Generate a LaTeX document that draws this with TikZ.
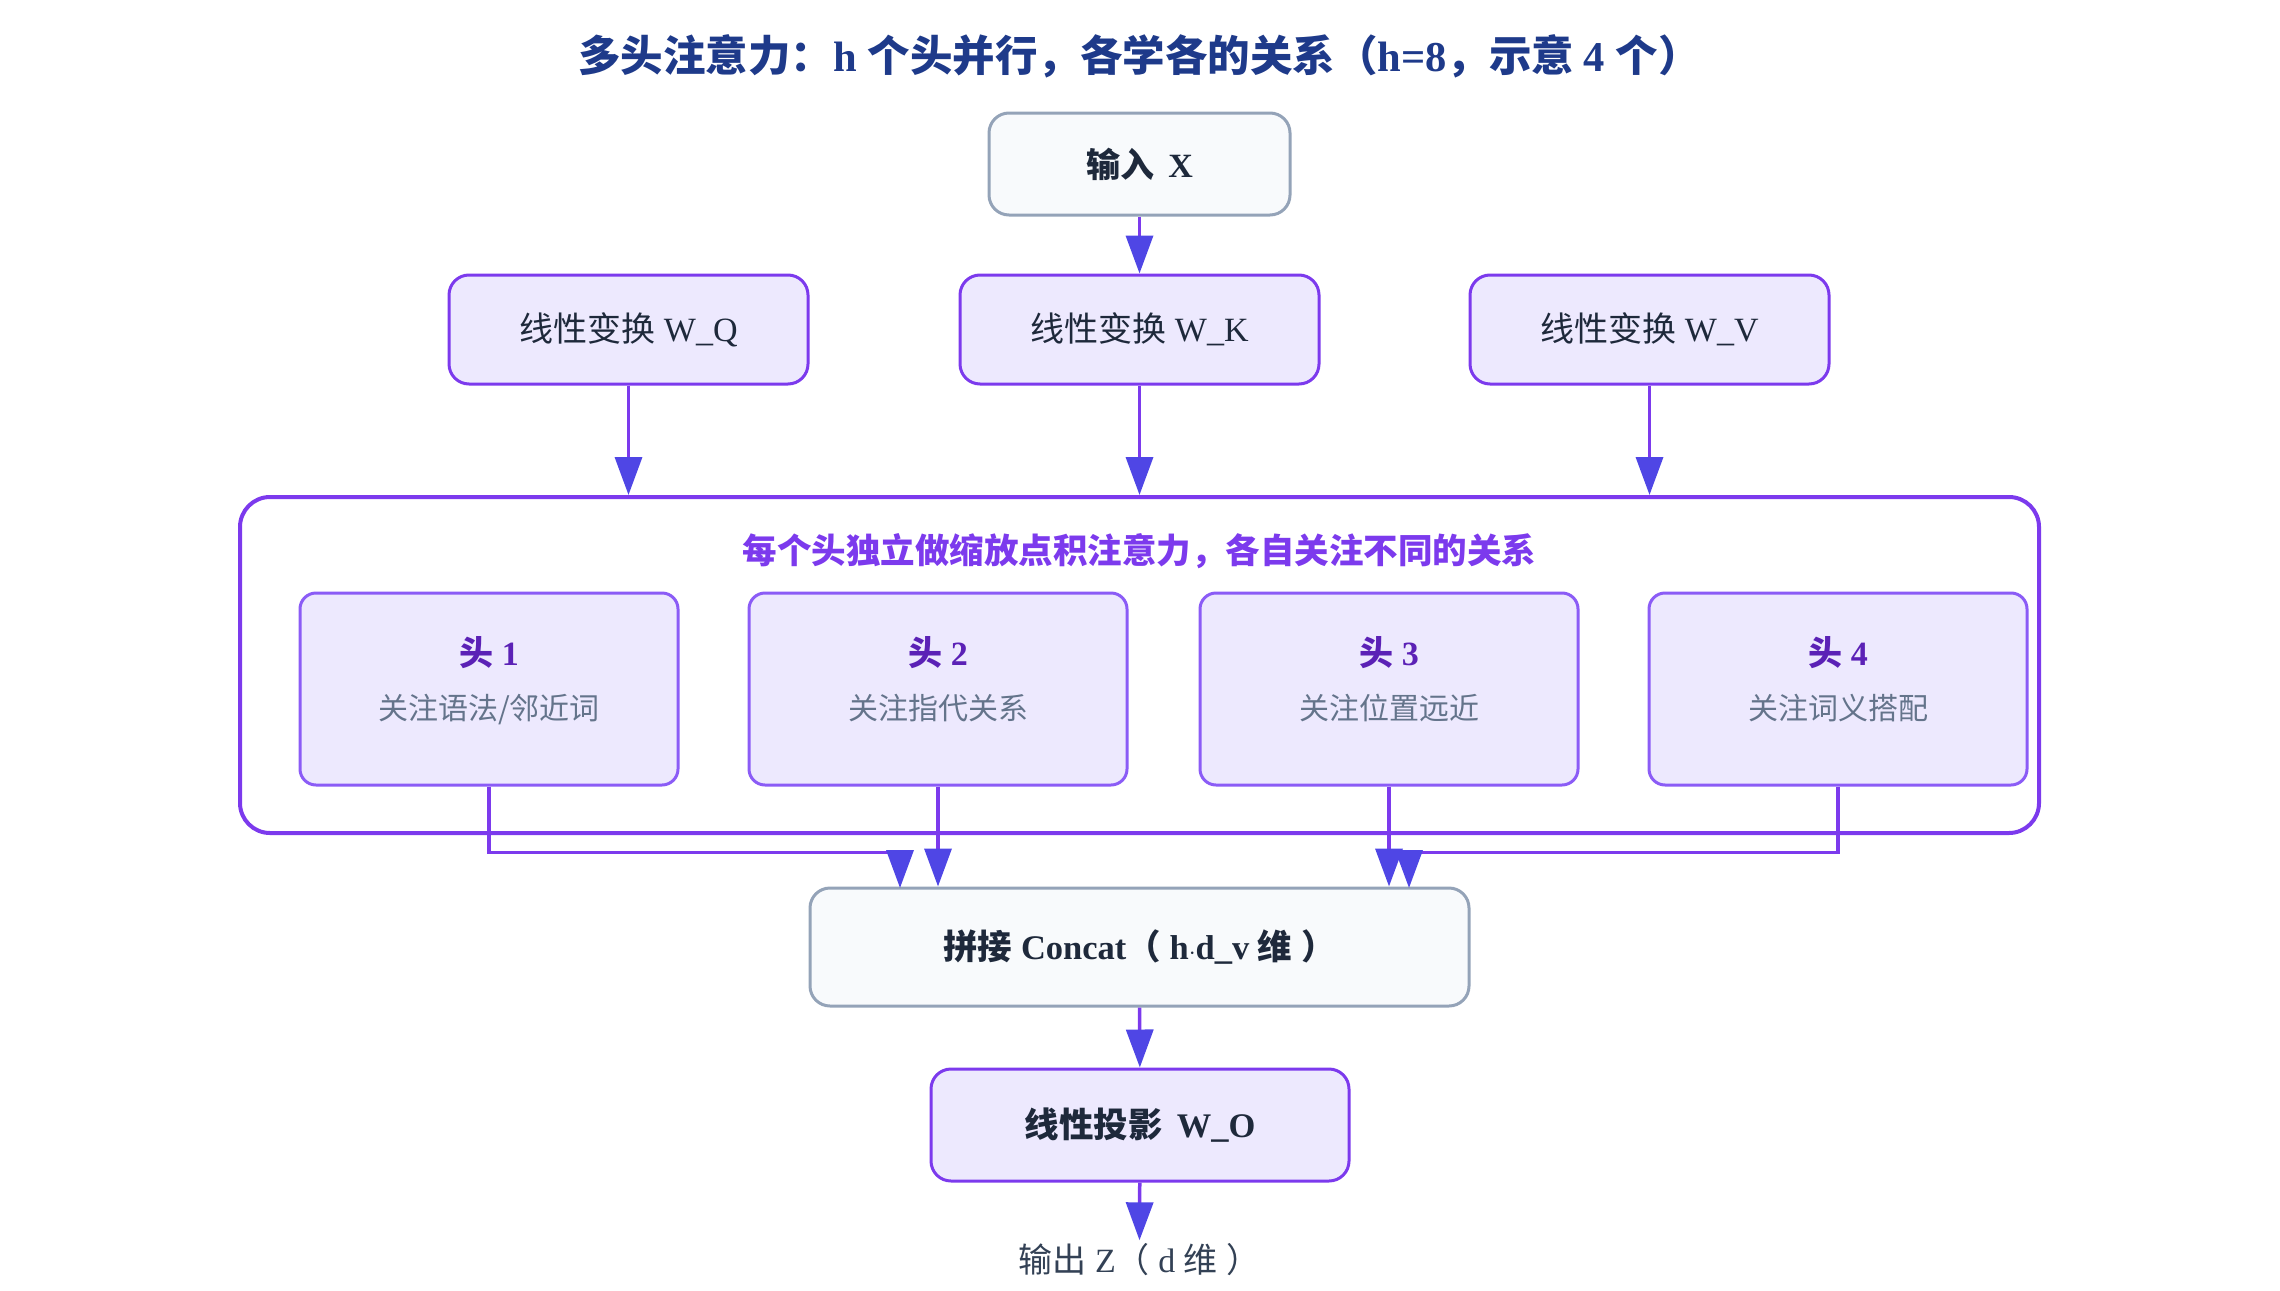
\documentclass[tikz,border=0pt]{standalone}
\usepackage{fontspec}
\setmainfont{Liberation Serif}
\newfontfamily\cjk{Noto Sans CJK SC}
\usetikzlibrary{arrows.meta}

\definecolor{titleblue}{HTML}{1E3A8A}
\definecolor{ink}{HTML}{1E293B}
\definecolor{subgrey}{HTML}{64748B}
\definecolor{outgrey}{HTML}{334155}
\definecolor{wire}{HTML}{7C3AED}
\definecolor{tipblue}{HTML}{4F46E5}
\definecolor{lilac}{HTML}{EDE9FE}
\definecolor{lilacline}{HTML}{8B5CF6}
\definecolor{headink}{HTML}{5B21B6}
\definecolor{paper}{HTML}{F8FAFC}
\definecolor{paperline}{HTML}{94A3B8}

\newcommand{\zh}[1]{{\cjk #1}}

\tikzset{
  box/.style={draw=wire, fill=lilac, line width=3pt, rounded corners=20pt,
    inner sep=0pt, align=center, text=ink, font=\fontsize{34}{40}\selectfont},
  greybox/.style={box, draw=paperline, fill=paper},
  headbox/.style={box, draw=lilacline, rounded corners=16pt,
    minimum width=378pt, minimum height=192pt},
  link/.style={draw=wire, line width=3.5pt,
    -{Triangle[length=38pt,width=27pt,color=tipblue]}},
}

\begin{document}
\begin{tikzpicture}[x=1pt,y=-1pt]
  \useasboundingbox (0,0) rectangle (2280,1290);

  % title
  \node[font=\bfseries\fontsize{42.5}{48}\selectfont, text=titleblue] (title) at (1139.5,56)
    {\zh{多头注意力：}h \zh{个头并行，各学各的关系（}h=8\zh{，示意 }4 \zh{个）}};

  % input and the three projections
  \node[greybox, font=\bfseries\fontsize{34}{40}\selectfont,
    minimum width=301pt, minimum height=102pt] (inp) at (1139.5,164) {\zh{输入}\, X};
  \node[box, minimum width=359pt, minimum height=109pt] (wq) at (628.5,329.5) {\zh{线性变换} W\_Q};
  \node[box, minimum width=359pt, minimum height=109pt] (wk) at (1139.5,329.5) {\zh{线性变换} W\_K};
  \node[box, minimum width=359pt, minimum height=109pt] (wv) at (1649.5,329.5) {\zh{线性变换} W\_V};

  % the group of heads
  \node[draw=wire, line width=4pt, rounded corners=30pt,
    minimum width=1799pt, minimum height=336pt] (heads) at (1139.5,665) {};
  \node[font=\bfseries\fontsize{34.5}{40}\selectfont, text=wire] (grp) at (1139.5,551)
    {\zh{每个头独立做缩放点积注意力，各自关注不同的关系}};

  \foreach \i/\x/\txt in {1/489/{关注语法/邻近词}, 2/938/关注指代关系,
                          3/1389/关注位置远近, 4/1838/关注词义搭配} {
    \node[headbox] (h\i) at (\x,689)
      {{\bfseries\color{headink}\zh{头} \i}\\[14pt]
       {\color{subgrey}\fontsize{30}{36}\selectfont\zh{\txt}\rule[-22pt]{0pt}{22pt}}};
  }

  % concat, output projection, output
  \node[greybox, font=\bfseries\fontsize{34.5}{40}\selectfont,
    minimum width=659pt, minimum height=118pt] (cat) at (1139.5,947)
    {\zh{拼接} Concat\zh{（} h$\cdot$d\_v \zh{维} \zh{）}};
  \node[box, font=\bfseries\fontsize{34.5}{40}\selectfont,
    minimum width=418pt, minimum height=112pt] (wo) at (1140,1125) {\zh{线性投影}\, W\_O};
  \node[text=outgrey, font=\fontsize{34}{40}\selectfont] (out) at (1139.5,1260)
    {\zh{输出} Z\zh{（} d \zh{维} \zh{）}};

  \coordinate (in1) at (900,888);
  \coordinate (in4) at (1409,888);

  % connectors
  \draw[link] (inp) -- (wk);
  \draw[link] (wq) -- (wq.south |- heads.north);
  \draw[link] (wk) -- (wk.south |- heads.north);
  \draw[link] (wv) -- (wv.south |- heads.north);
  \draw[link] (h1.south) -- ++(0,66) -| (in1);
  \draw[link] (h2.south) -- (h2.south |- cat.north);
  \draw[link] (h3.south) -- (h3.south |- cat.north);
  \draw[link] (h4.south) -- ++(0,66) -| (in4);
  \draw[link] (cat) -- (wo);
  \draw[link] (wo) -- (out.north);
\end{tikzpicture}
\end{document}
